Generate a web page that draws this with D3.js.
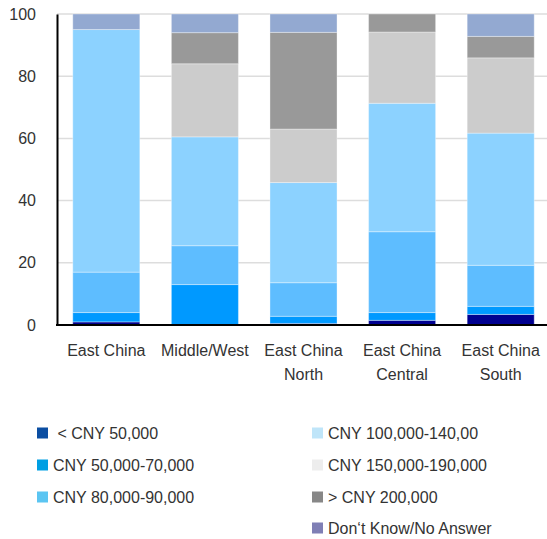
<!DOCTYPE html>
<html>
<head>
<meta charset="utf-8">
<script src="https://cdn.jsdelivr.net/npm/d3@7/dist/d3.min.js"></script>
<style>
  html, body { margin: 0; padding: 0; background: #fff; }
  svg { display: block; font-family: "Liberation Sans", Arial, sans-serif; }
</style>
</head>
<body>
<svg id="chart" width="547" height="539"></svg>
<script>
// Regions (x-axis categories); "\n" splits a label over two lines
const regions = ["East China", "Middle/West", "East China\nNorth", "East China\nCentral", "East China\nSouth"];

// Income bands, bottom to top of each stack
const bands = ["< CNY 50,000", "CNY 50,000-70,000", "CNY 80,000-90,000", "CNY 100,000-140,00",
               "CNY 150,000-190,000", "> CNY 200,000", "Don\u2018t Know/No Answer"];

// Share of respondents (%) per band, one value per region
const under50k    = [1.0, 0.0, 0.5, 1.5, 3.4];
const from50to70k = [3.0, 13.0, 2.3, 2.5, 2.6];
const from80to90k = [13.0, 12.5, 10.8, 26.0, 13.2];
const from100to140k = [78.0, 35.0, 32.2, 41.3, 42.5];
const from150to190k = [0.0, 23.5, 17.2, 22.9, 24.2];
const over200k    = [0.0, 10.0, 31.1, 5.8, 6.9];
const dontKnow    = [5.0, 6.0, 5.9, 0.0, 7.2];

const yTicks = [0, 20, 40, 60, 80, 100];

const barColors = ["#000090", "#0099ff", "#5ebdff", "#8cd2ff", "#cccccc", "#999999", "#93a9d1"];
const legendColors = ["#0b4ea2", "#009fe3", "#5bc5f2", "#bfe5f9", "#ededed", "#878787", "#7f7fb5"];

const series = [under50k, from50to70k, from80to90k, from100to140k, from150to190k, over200k, dontKnow];
const rows = regions.map((r, i) => {
  const o = { region: r };
  bands.forEach((b, k) => { o[b] = series[k][i]; });
  return o;
});

const svg = d3.select("#chart");
const plotLeft = 57, plotRight = 550, plotTop = 14, plotBottom = 325;

const x = d3.scaleBand().domain(regions).range([plotLeft, plotRight]).paddingInner(0.32).paddingOuter(0.16);
const y = d3.scaleLinear().domain([0, 100]).range([plotBottom, plotTop]);

// Horizontal gridlines
svg.append("g").selectAll("line").data(yTicks.filter(d => d > 0)).join("line")
  .attr("x1", plotLeft).attr("x2", 547)
  .attr("y1", d => y(d)).attr("y2", d => y(d))
  .attr("stroke", "#dddddd").attr("stroke-width", 1.5);

// Stacked bars
const stacked = d3.stack().keys(bands)(rows);
svg.append("g").selectAll("g").data(stacked).join("g")
  .attr("fill", (d, i) => barColors[i])
  .selectAll("rect").data(d => d).join("rect")
  .attr("x", d => x(d.data.region))
  .attr("width", x.bandwidth())
  .attr("y", d => y(d[1]))
  .attr("height", d => Math.max(0, y(d[0]) - y(d[1])))
  .attr("stroke", "rgba(255,255,255,0.35)")
  .attr("stroke-width", 1);

// Y axis
const yAxis = svg.append("g").attr("transform", `translate(${plotLeft},0)`)
  .call(d3.axisLeft(y).tickValues(yTicks).tickSize(0).tickPadding(21));
yAxis.select(".domain").attr("stroke", "#000").attr("stroke-width", 2);
yAxis.selectAll("text").attr("font-size", 16).attr("fill", "#333")
  .attr("font-family", "Liberation Sans, Arial, sans-serif");

// Baseline
svg.append("line").attr("x1", plotLeft - 1).attr("x2", 547)
  .attr("y1", y(0)).attr("y2", y(0))
  .attr("stroke", "#000").attr("stroke-width", 2);

// Category labels
const xl = svg.append("g").selectAll("text").data(regions).join("text")
  .attr("x", d => x(d) + x.bandwidth() / 2)
  .attr("y", 356)
  .attr("text-anchor", "middle")
  .attr("font-size", 16)
  .attr("fill", "#333");
xl.selectAll("tspan").data(d => d.split("\n")).join("tspan")
  .attr("x", function() { return d3.select(this.parentNode).attr("x"); })
  .attr("dy", (d, i) => i === 0 ? 0 : 24)
  .text(d => d);

// Legend: two columns
const legendPos = [
  [37, 433], [37, 465], [37, 497],
  [312, 433], [312, 465], [312, 497], [312, 528]
];
const leg = svg.append("g").selectAll("g").data(bands).join("g")
  .attr("transform", (d, i) => `translate(${legendPos[i][0]},${legendPos[i][1]})`);
leg.append("rect").attr("x", 0).attr("y", -5.5).attr("width", 11).attr("height", 11)
  .attr("fill", (d, i) => legendColors[i]);
leg.append("text").attr("x", 16).attr("y", 0).attr("dy", "0.35em")
  .attr("font-size", 16).attr("fill", "#333")
  .attr("xml:space", "preserve")
  .text((d, i) => i === 0 ? " " + d : d);
</script>
</body>
</html>
